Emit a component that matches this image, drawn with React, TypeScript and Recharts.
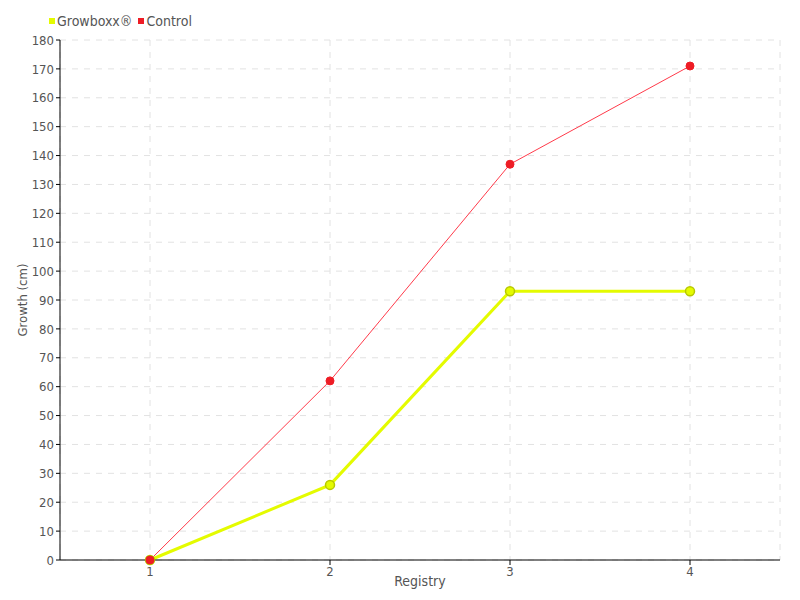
import { CartesianGrid, Line, LineChart, XAxis, YAxis } from 'recharts';

const registries = ['1', '2', '3', '4'];
const growboxx = [0, 26, 93, 93];
const control = [0, 62, 137, 171];
const yTicks = [0, 10, 20, 30, 40, 50, 60, 70, 80, 90, 100, 110, 120, 130, 140, 150, 160, 170, 180];

const data = registries.map((name, i) => ({
  name,
  growboxx: growboxx[i],
  control: control[i],
}));

const font = "'Liberation Sans Narrow', 'DejaVu Sans Condensed', 'Roboto', sans-serif";

function LegendBox() {
  const items = [
    { label: 'Growboxx®', color: '#e4fb00' },
    { label: 'Control', color: '#ee1c25' },
  ];
  return (
    <div
      style={{
        position: 'absolute',
        top: 13,
        left: 49,
        display: 'flex',
        gap: 6,
        fontFamily: font,
        fontSize: 14,
        color: '#555',
      }}
    >
      {items.map((item) => (
        <span key={item.label} style={{ display: 'flex', alignItems: 'center', gap: 2 }}>
          <span style={{ width: 6, height: 6, background: item.color, display: 'inline-block' }} />
          {item.label}
        </span>
      ))}
    </div>
  );
}

export default function App() {
  return (
    <div style={{ position: 'absolute', left: 0, top: 0, width: 800, height: 600, background: '#fff' }}>
      <LineChart
        width={800}
        height={600}
        data={data}
        margin={{ top: 40, right: 20, bottom: 10, left: 0 }}
      >
        <CartesianGrid stroke="#e2e2e2" strokeDasharray="6 6" />
        <XAxis
          dataKey="name"
          padding={{ left: 90, right: 90 }}
          axisLine={{ stroke: '#000' }}
          tickLine={{ stroke: '#000' }}
          tick={{ fill: '#555', fontSize: 13, fontFamily: font }}
          tickSize={5}
          label={{ value: 'Registry', position: 'insideBottom', offset: 4, fill: '#555', fontSize: 14, fontFamily: font }}
        />
        <YAxis
          width={60}
          domain={[0, 180]}
          ticks={yTicks}
          interval={0}
          axisLine={{ stroke: '#000' }}
          tickLine={{ stroke: '#000' }}
          tick={{ fill: '#555', fontSize: 13, fontFamily: font }}
          tickSize={4}
          label={{ value: 'Growth (cm)', angle: -90, position: 'insideLeft', offset: 22, fill: '#555', fontSize: 13, fontFamily: font, style: { textAnchor: 'middle' } }}
        />
        <Line
          dataKey="growboxx"
          stroke="#e4fb00"
          strokeWidth={3}
          dot={{ r: 4.5, fill: '#e4fb00', stroke: '#b8c800', strokeWidth: 1.5 }}
          isAnimationActive={false}
        />
        <Line
          dataKey="control"
          stroke="#ff3a4a"
          strokeWidth={1}
          dot={{ r: 4, fill: '#ee1c25', stroke: '#ee1c25', strokeWidth: 1 }}
          isAnimationActive={false}
        />
      </LineChart>
      <LegendBox />
    </div>
  );
}
